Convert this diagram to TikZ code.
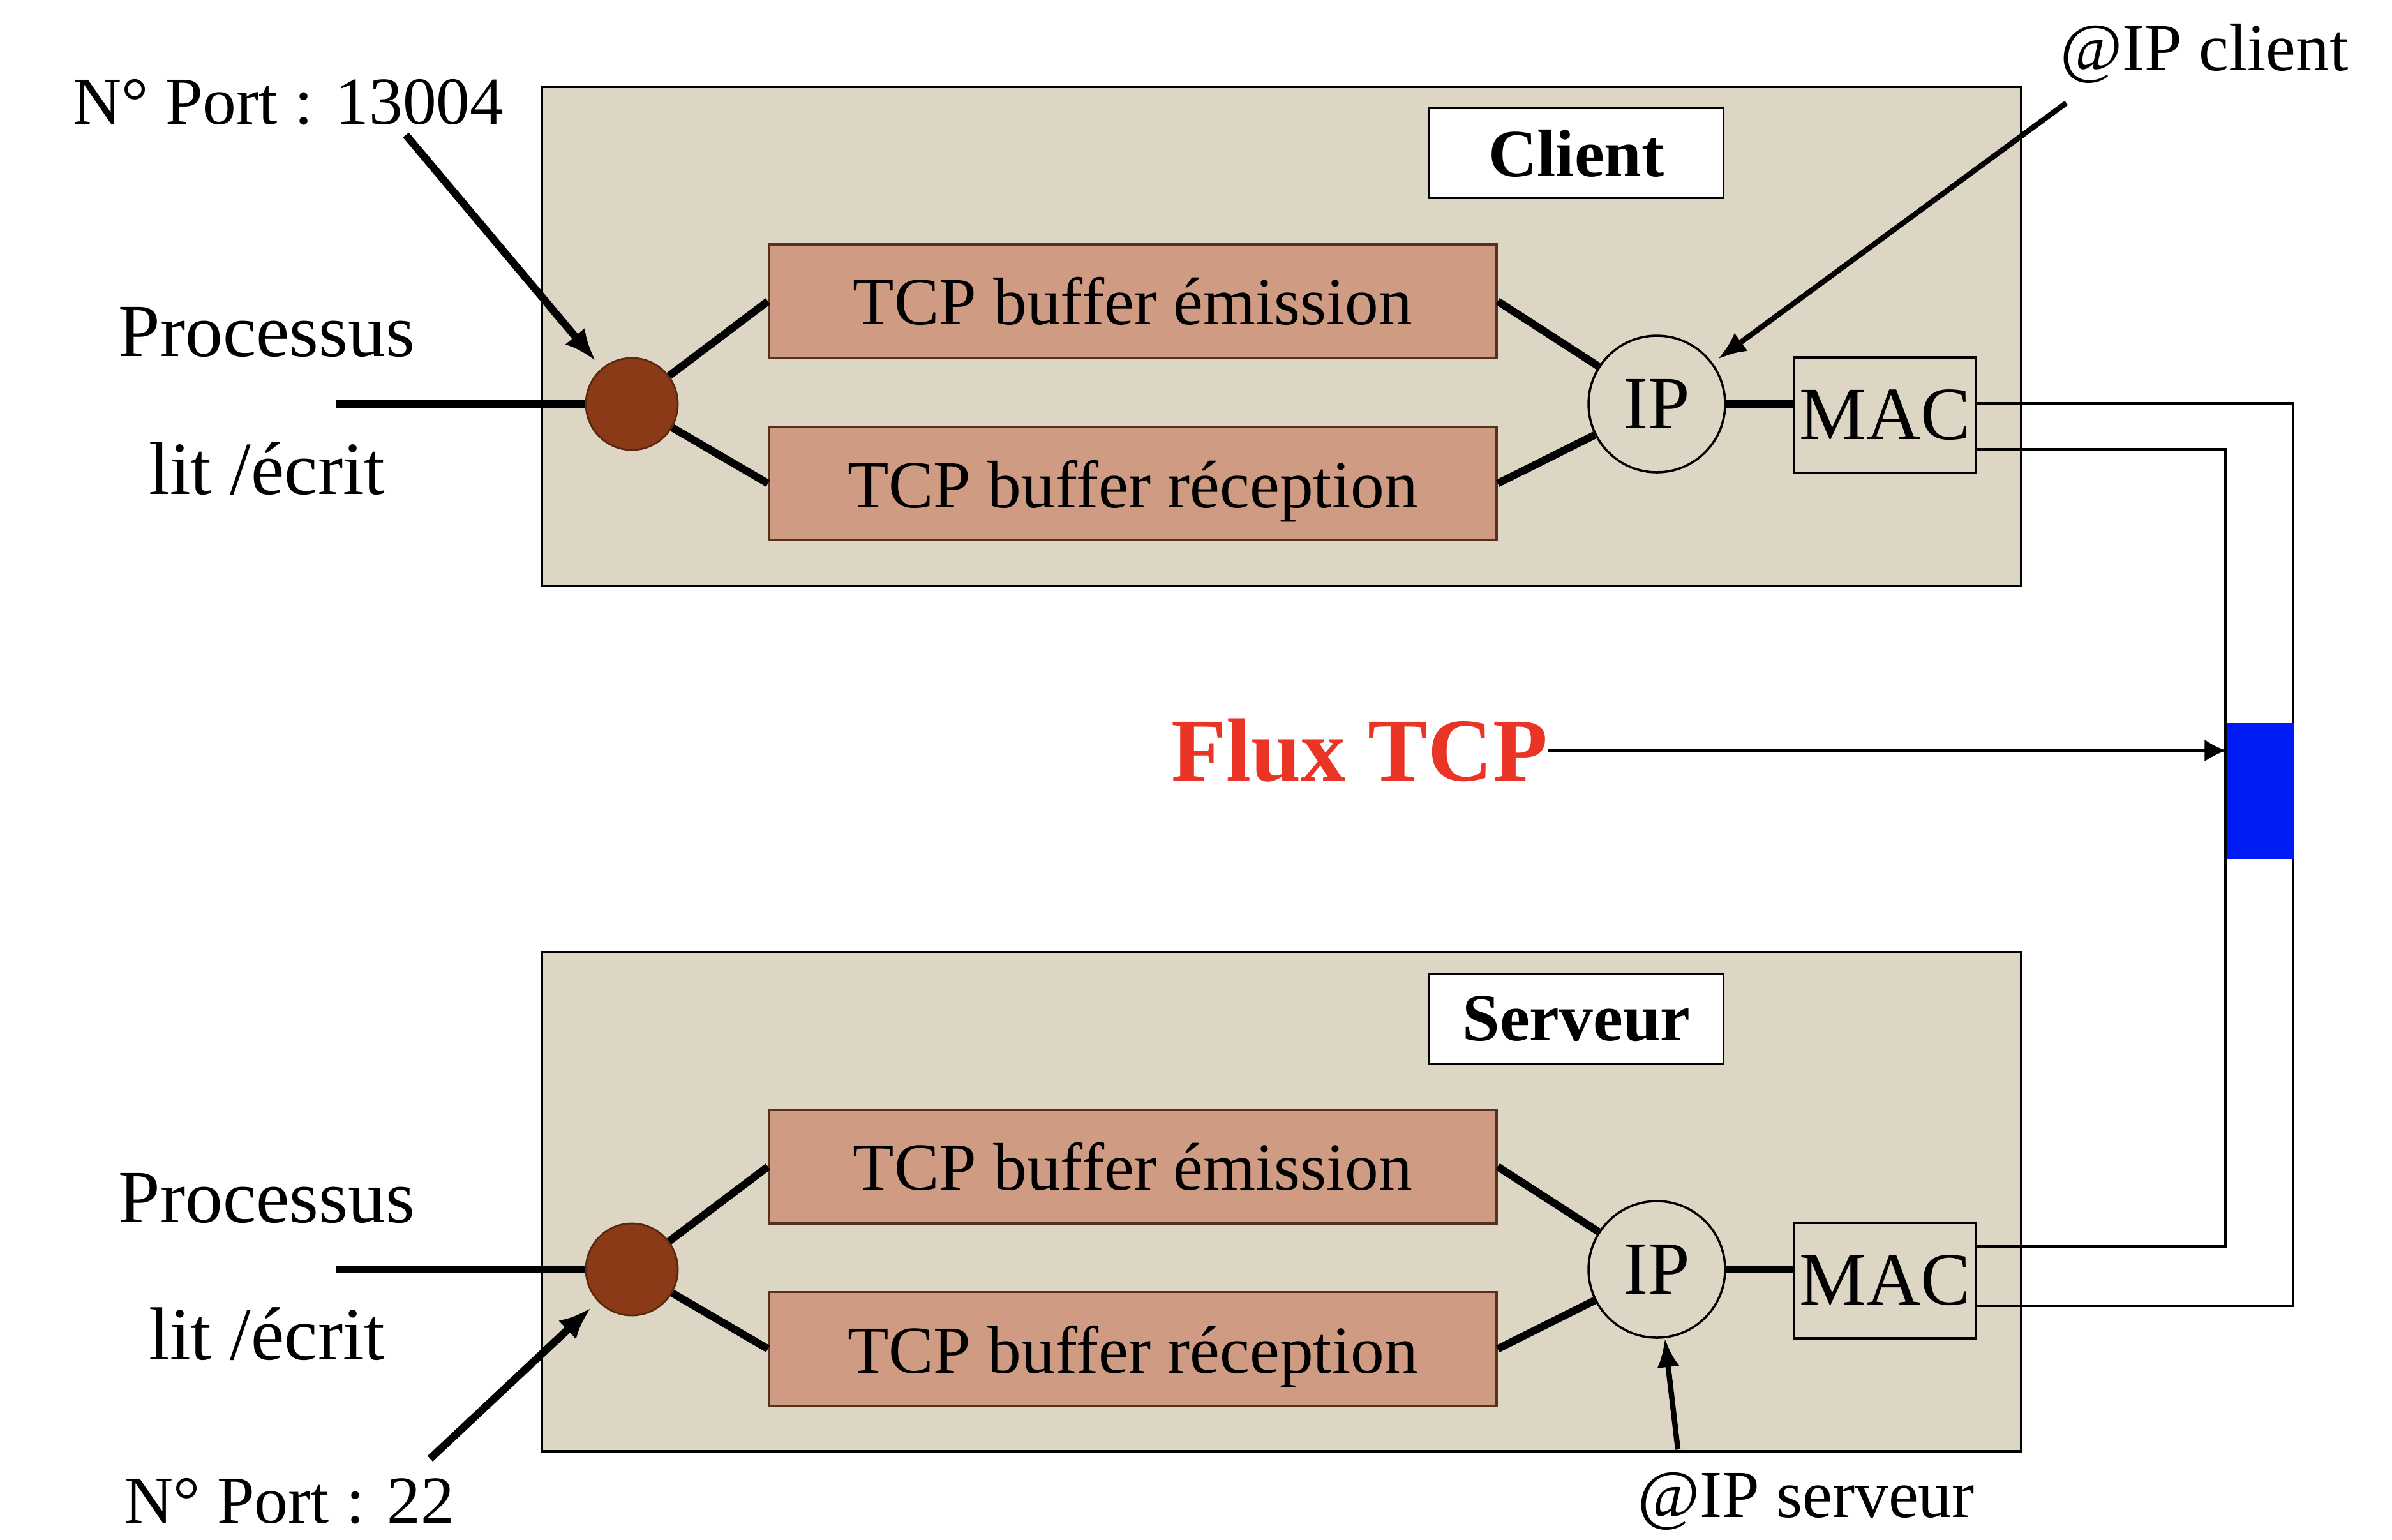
\documentclass[tikz,border=0pt]{standalone}
\usepackage{fontspec}
\setmainfont{Liberation Serif}
\usetikzlibrary{arrows.meta,positioning,calc}
\definecolor{hostbg}{RGB}{221,214,196}
\definecolor{bufferfill}{RGB}{207,155,130}
\definecolor{bufferline}{RGB}{85,50,30}
\definecolor{portbrown}{RGB}{139,58,24}
\definecolor{portline}{RGB}{90,40,15}
\definecolor{busblue}{RGB}{0,28,245}
\definecolor{fluxred}{RGB}{233,52,38}
\newcommand{\bigtxt}{\fontsize{30}{36}\selectfont}
\newcommand{\hugetxt}{\fontsize{33.5}{40}\selectfont}
\tikzset{
  hostbox/.style={draw=black,line width=1pt,fill=hostbg,minimum width=23.18cm,minimum height=7.82cm,inner sep=0pt},
  titlebox/.style={draw=black,line width=1pt,fill=white,minimum width=4.61cm,minimum height=1.41cm,
    font=\bigtxt\bfseries,inner sep=0pt},
  bufbox/.style={draw=bufferline,line width=1pt,fill=bufferfill,minimum width=11.40cm,minimum height=1.78cm,
    font=\bigtxt,inner sep=0pt},
  portdot/.style={circle,draw=portline,line width=0.8pt,fill=portbrown,minimum size=1.44cm,inner sep=0pt},
  ipdot/.style={circle,draw=black,line width=1pt,minimum size=2.14cm,inner sep=0pt,font=\hugetxt},
  macbox/.style={draw=black,line width=1pt,minimum width=2.85cm,minimum height=1.81cm,inner sep=0pt,font=\hugetxt},
  plaintxt/.style={font=\bigtxt,inner sep=0pt},
  proctxt/.style={font=\hugetxt,inner sep=0pt},
  thickline/.style={line width=3.4pt},
  portarrow/.style={-{Latex[length=5mm,width=4mm]},line width=3.4pt,shorten >=1.5mm},
  iparrow/.style={-{Latex[length=4.5mm,width=3.5mm]},line width=2.4pt},
  busline/.style={line width=1.1pt},
  fluxarrow/.style={-{Latex[length=3.4mm,width=3.5mm]},line width=1pt}
}

\begin{document}
\begin{tikzpicture}[x=1cm,y=-1cm]
  \useasboundingbox (0,0) rectangle (37.48,24.12);
  % one host block per side
  \foreach \h/\dy/\title in {c/0/Client,s/13.56/Serveur}{
    \node[hostbox] (box\h) at (20.08,5.27+\dy) {};
    \node[titlebox] (title\h) at (24.70,2.40+\dy) {\title};
    \node[bufbox] (emis\h) at (17.75,4.72+\dy) {TCP buffer émission};
    \node[bufbox] (recp\h) at (17.75,7.575+\dy) {\raisebox{-1.2mm}[\height][\depth]{TCP buffer réception}};
    \node[portdot] (port\h) at (9.90,6.33+\dy) {};
    \node[ipdot] (ip\h) at (25.96,6.33+\dy) {IP};
    \node[macbox] (mac\h) at (29.535,6.505+\dy) {MAC};
    \node[proctxt] (proc\h) at (4.18,5.21+\dy) {Processus};
    \node[proctxt] (rw\h) at (4.18,7.34+\dy) {lit /écrit};
    \coordinate (app\h) at (5.26,6.33+\dy);
    \draw[thickline] (app\h) -- (port\h);
    \draw[thickline] (port\h) -- (emis\h.west);
    \draw[thickline] (port\h) -- (recp\h.west);
    \draw[thickline] (emis\h.east) -- (ip\h);
    \draw[thickline] (recp\h.east) -- (ip\h);
    \draw[thickline] (ip\h.east) -- (ip\h.east -| mac\h.west);
  }

  % labels
  \node[plaintxt] (portcl) at (4.52,1.60) {N° Port : 13004};
  \node[plaintxt] (portsl) at (4.54,23.52) {N° Port : 22};
  \node[plaintxt] (ipcl) at (34.54,0.84) {@IP client};
  \node[plaintxt] (ipsl) at (28.30,23.52) {@IP serveur};
  \node[font=\fontsize{40}{48}\selectfont\bfseries,text=fluxred,inner sep=0pt] (flux) at (21.30,11.76) {Flux TCP};

  \draw[portarrow] ([xshift=18.4mm,yshift=-1.5mm]portcl.south) -- (portc);
  \draw[portarrow] ([xshift=22mm,yshift=3mm]portsl.north) -- (ports);
  \draw[iparrow,shorten >=1mm] ([xshift=1mm,yshift=-3mm]ipcl.south west) -- (ipc);
  \draw[iparrow] ([xshift=-20.1mm,yshift=3.5mm]ipsl.north) -- (ips);

  % link between the two MACs
  \coordinate (outbot) at (35.93,20.46);
  \coordinate (inbot) at (34.87,19.53);
  \draw[busline] ([yshift=1.85mm]macc.east) -| (outbot) -- ([yshift=-3.95mm]macs.east);
  \draw[busline] ([yshift=-5.35mm]macc.east) -| (inbot) -- ([yshift=5.35mm]macs.east);
  \node[fill=busblue,minimum width=1.06cm,minimum height=2.13cm,inner sep=0pt] (bus) at (35.42,12.395) {};
  \draw[fluxarrow] (flux.east) -- (flux.east -| bus.west);
\end{tikzpicture}
\end{document}
